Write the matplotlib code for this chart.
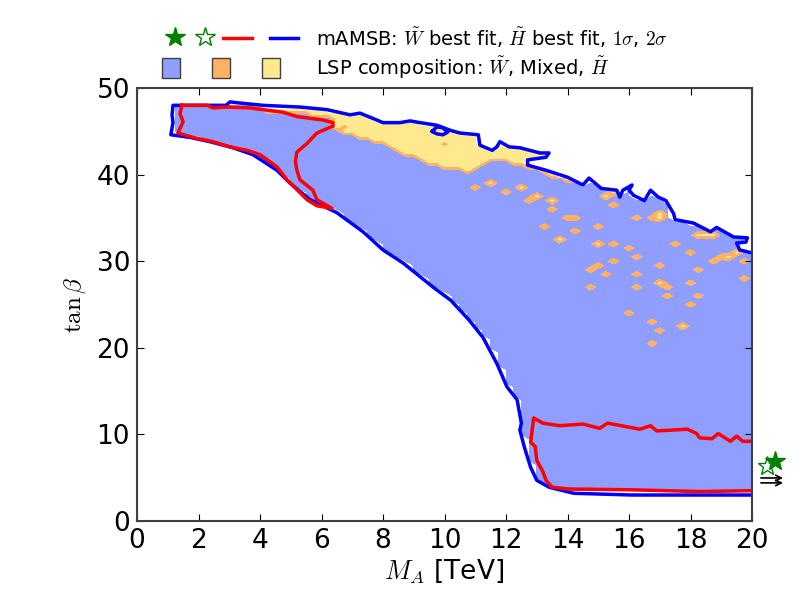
import matplotlib
matplotlib.use("Agg")
import matplotlib.pyplot as plt
import numpy as np
from matplotlib.path import Path

plt.rcParams['mathtext.fontset'] = 'cm'
plt.rcParams['font.family'] = ['DejaVu Sans']

# 2 sigma contour (blue), from the upper right end, round the left end, to the lower right end
outer_x = [20.0, 19.95, 19.6, 19.5, 19.8, 19.85, 19.4, 19.2, 18.85, 18.65, 18.1, 17.5, 17.45, 17.2,
           16.95, 16.7, 16.5, 16.15, 16.0, 16.1, 15.8, 15.7, 15.6, 15.1, 14.7, 14.5, 14.0, 13.3,
           12.7, 12.7, 13.3, 13.4, 13.1, 12.45, 12.1, 11.8, 11.7, 11.55, 11.15, 11.1, 10.5, 10.2,
           9.75, 9.2, 8.88, 8.55, 8.0, 7.8, 7.25, 6.93, 6.18, 5.3, 4.1, 3.25, 3.02, 2.9, 1.17,
           1.14, 1.17, 1.1, 1.72, 2.37, 3.12, 3.77, 4.55, 4.98, 5.63, 6.5, 7.35, 8.0, 8.65, 9.63,
           10.2, 10.8, 11.25, 11.7, 12.03, 12.36, 12.5, 12.45, 12.6, 12.8, 13.0, 13.4, 14.2, 16.1,
           17.75, 20.0]
outer_y = [31.0, 31.0, 31.3, 32.1, 32.2, 32.7, 32.8, 33.2, 33.9, 33.4, 34.4, 34.8, 35.5, 37.0,
           37.4, 38.2, 37.0, 37.6, 38.2, 38.8, 38.2, 37.4, 38.2, 38.4, 39.6, 38.8, 39.7, 40.5,
           41.1, 41.7, 42.0, 42.5, 42.5, 43.1, 43.2, 43.8, 43.2, 42.8, 43.4, 44.6, 44.8, 45.1,
           45.7, 46.0, 46.2, 46.0, 46.0, 46.3, 47.1, 46.9, 47.5, 47.8, 48.0, 48.3, 48.4, 48.0, 48.0,
           46.9, 46.0, 44.6, 44.3, 43.8, 43.1, 42.3, 40.5, 39.0, 37.1, 35.6, 33.4, 31.3, 29.8, 27.0,
           25.5, 23.2, 21.2, 18.2, 15.5, 14.0, 11.3, 10.5, 8.5, 6.2, 4.7, 3.9, 3.2, 3.0,
           3.0, 3.0]

# small closed 2 sigma island
loop_x = [9.6, 9.75, 9.95, 10.1, 9.95, 9.75, 9.6]
loop_y = [45.0, 45.5, 45.4, 44.9, 44.6, 44.7, 45.0]

# 1 sigma contours (red)
red1_x = [1.46, 2.28, 2.47, 2.93, 3.67, 4.75, 5.2, 6.05, 6.37, 6.37, 5.85, 5.53, 5.2, 5.15, 5.2,
          5.3, 5.72, 5.85, 6.34, 5.85, 5.53, 4.88, 4.55, 4.0, 3.58, 3.02, 2.47, 1.82, 1.33, 1.5,
          1.4, 1.46]
red1_y = [48.0, 48.0, 47.7, 47.8, 47.7, 47.2, 46.7, 46.3, 46.0, 45.6, 44.8, 43.6, 42.6, 41.5, 40.5,
          39.4, 38.2, 37.1, 36.1, 36.4, 37.1, 39.4, 40.9, 42.3, 42.8, 43.2, 43.8, 44.3, 44.8, 46.1,
          47.0, 48.0]
red2_x = [20.0, 19.7, 19.5, 19.3, 18.9, 18.7, 18.3, 18.2, 17.9, 16.9, 16.7, 16.35, 15.3, 15.05,
          14.5, 13.75, 13.2, 12.9, 12.8, 12.95, 13.0, 13.2, 13.3, 13.5, 14.0, 16.1, 18.3, 20.0]
red2_y = [9.2, 9.2, 9.8, 9.2, 10.1, 9.5, 9.6, 10.1, 10.6, 10.4, 11.0, 10.6, 11.3, 10.7,
          11.2, 11.0, 11.3, 11.9, 9.1, 8.6, 7.0, 5.7, 4.7, 3.9, 3.7, 3.6, 3.4, 3.5]

# Higgsino-like band below the upper edge (lower boundary, then closed above the plot)
higgs_x = [3.9, 5.2, 6.3, 6.5, 6.9, 8.0, 8.5, 9.1, 9.7, 10.5, 10.9, 11.3, 12.0, 12.6, 13.3, 14.0,
           14.6, 14.6, 3.9]
higgs_y = [47.6, 47.2, 46.6, 45.5, 44.6, 43.6, 42.7, 42.2, 41.1, 40.8, 40.2, 41.5, 41.8, 41.0,
           40.2, 39.4, 39.0, 50.0, 50.0]

# isolated Higgsino-like points
hpts_x = [11.5, 12.5, 13.0, 13.5, 15.25, 15.5, 17.0, 17.0, 18.25, 18.5, 18.75, 19.25, 19.5,
          13.85, 15.0, 16.9, 17.7]
hpts_y = [39.0, 38.5, 37.5, 37.0, 37.5, 38.0, 35.5, 35.0, 33.0, 33.0, 33.0, 30.5, 31.0,
          32.5, 32.0, 27.5, 22.5]

# mixed points
mix_x = [6.7, 10.1, 11.0, 12.0, 12.75, 13.5, 14.0, 13.27, 14.25, 14.2, 14.95, 15.45, 15.9, 14.67,
         15.1, 15.15, 15.6, 14.8, 15.9, 16.25, 16.3, 16.35, 16.9, 16.7, 16.7, 17.1, 17.3, 17.3,
         17.9, 18.1, 18.1, 18.3, 18.3, 17.5, 18.7, 16.25, 15.6, 16.75, 19.05, 19.8, 19.7]
mix_y = [45.5, 43.6, 38.5, 38.0, 37.0, 36.0, 35.0, 34.1, 33.6, 35.0, 34.0, 32.1, 31.6, 29.2,
         29.6, 28.6, 29.8, 27.2, 24.1, 28.6, 27.0, 30.5, 29.6, 23.2, 20.6, 22.1, 27.0, 26.1,
         25.2, 31.1, 27.6, 29.0, 25.8, 32.2, 30.1, 35.1, 36.7, 35.1, 30.5, 28.1, 29.8]

# best fit points (beyond the plotted M_A range)
best_w = (20.75, 6.9)
best_h = (20.5, 6.35)
arrow_y = [4.97, 4.4]

c_wino = '#8f9eff'
c_mix = '#ffb266'
c_higgs = '#ffe98f'

# composition grid
dx, dy = 0.25, 0.5
gx = np.arange(0, 20 + dx / 2, dx)
gy = np.arange(0, 50 + dy / 2, dy)
X, Y = np.meshgrid(gx, gy)
pts = np.column_stack([X.ravel(), Y.ravel()])

fill_poly = list(zip(outer_x, outer_y)) + [(20.4, 3.0), (20.4, 31.0)]
inside = Path(fill_poly).contains_points(pts).reshape(X.shape)
in_h = Path(list(zip(higgs_x, higgs_y))).contains_points(pts).reshape(X.shape)

Z = np.full(X.shape, np.nan)
Z[inside] = 1.0
Z[inside & in_h] = 3.0
for px, py in zip(mix_x, mix_y):
    i, j = int(round(py / dy)), int(round(px / dx))
    if inside[i, j]:
        Z[i, j] = 2.0
for px, py in zip(hpts_x, hpts_y):
    i, j = int(round(py / dy)), int(round(px / dx))
    if inside[i, j]:
        Z[i, j] = 3.0
Z = np.ma.masked_invalid(Z)

fig = plt.figure(figsize=(8, 6), dpi=100)
ax = fig.add_axes([137 / 800, 79 / 600, 615 / 800, 433 / 600])

ax.contourf(X, Y, Z, levels=[0.5, 1.35, 2.65, 3.5], colors=[c_wino, c_mix, c_higgs])

ax.plot(outer_x, outer_y, color='blue', lw=2.5)
ax.plot(loop_x, loop_y, color='blue', lw=2.5)
ax.plot(red1_x, red1_y, color='red', lw=2.5)
ax.plot(red2_x, red2_y, color='red', lw=2.5)

ax.plot(best_h[0], best_h[1], marker='*', ms=14, mfc='none', mec='green', clip_on=False)
ax.plot(best_w[0], best_w[1], marker='*', ms=15, color='green', clip_on=False)
for ya in arrow_y:
    ax.annotate('', xy=(21.1, ya), xytext=(20.2, ya), annotation_clip=False,
                arrowprops=dict(arrowstyle='->', color='black', lw=1.2))

ax.set_xlim(0, 20)
ax.set_ylim(0, 50)
ax.set_xticks(np.arange(0, 21, 2))
ax.set_yticks(np.arange(0, 51, 10))
ax.tick_params(direction='in', top=True, right=True, length=5, labelsize=19, pad=5)
for s in ax.spines.values():
    s.set_color('#404040')
    s.set_linewidth(1.5)
ax.set_xlabel(r'$M_A$ [TeV]', fontsize=19, labelpad=2)
ax.set_ylabel(r'$\tan\beta$', fontsize=18, labelpad=6)

# legend above the axes, drawn in figure pixels
lg = fig.add_axes([0, 0, 1, 1], zorder=5)
lg.set_xlim(0, 800)
lg.set_ylim(600, 0)
lg.axis('off')
lg.plot(175, 37, marker='*', ms=15, color='green')
lg.plot(205, 37, marker='*', ms=15, mfc='none', mec='green')
lg.plot([223, 252], [38, 38], color='red', lw=2.5)
lg.plot([270, 298], [38, 38], color='blue', lw=2.5)
lg.text(316, 38, r'mAMSB: $\tilde{W}$ best fit, $\tilde{H}$ best fit, $1\sigma$, $2\sigma$',
        fontsize=14, va='center')
for cx, c in zip([171, 221, 271], [c_wino, c_mix, c_higgs]):
    lg.add_patch(plt.Rectangle((cx - 9, 58), 18, 20, facecolor=c, edgecolor='#404040', lw=1))
lg.text(316, 68, r'LSP composition: $\tilde{W}$, Mixed, $\tilde{H}$', fontsize=14, va='center')

fig.savefig('out.png', dpi=100)
